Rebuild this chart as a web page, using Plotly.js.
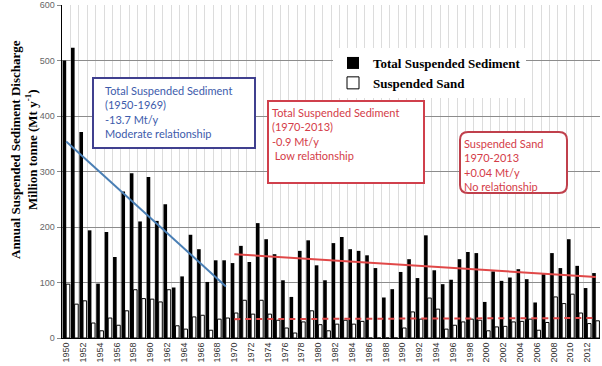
<!DOCTYPE html>
<html>
<head>
<meta charset="utf-8">
<script src="https://cdn.plot.ly/plotly-3.0.1.min.js"></script>
<style>html,body{margin:0;padding:0;background:#fff}#chart{width:602px;height:366px}</style>
</head>
<body>
<div id="chart"></div>
<script>
// ---- data ----
const years = [];
for (let y = 1950; y <= 2013; y++) years.push(y);

const totalSediment = [
  500, 523, 371, 194, 98, 191, 146, 264, 297, 210,
  290, 211, 241, 91, 111, 186, 160, 101, 140, 140,
  135, 166, 137, 207, 178, 151, 104, 74, 157, 176,
  131, 104, 171, 182, 160, 157, 149, 126, 73, 88,
  119, 142, 108, 185, 122, 97, 105, 142, 155, 153,
  65, 120, 103, 109, 124, 106, 64, 115, 153, 126,
  178, 130, 90, 117
];

const suspendedSand = [
  97, 61, 67, 27, 13, 36, 23, 49, 87, 71,
  70, 65, 87, 22, 16, 38, 41, 14, 34, 36,
  45, 68, 43, 68, 43, 32, 18, 9, 29, 49,
  24, 13, 25, 32, 25, 30, 0, 0, 0, 0,
  18, 47, 34, 72, 52, 16, 23, 29, 34, 32,
  13, 20, 21, 29, 30, 34, 14, 28, 74, 62,
  79, 45, 26, 31
];

// trend lines (end points)
const trendTssEarlyX = [1950, 1969];
const trendTssEarlyY = [354, 93];
const trendTssLateX = [1970, 2013];
const trendTssLateY = [151, 110];
const trendSandX = [1970, 2013];
const trendSandY = [34, 36];

const tickYears = [];
for (let y = 1950; y <= 2012; y += 2) tickYears.push(y);
const yTicks = [0, 100, 200, 300, 400, 500, 600];

const seriesNames = ['Total Suspended Sediment', 'Suspended Sand'];

// ---- traces ----
const traces = [
  {type: 'bar', x: years, y: totalSediment, name: seriesNames[0],
   marker: {color: '#000000', line: {width: 0}}},
  {type: 'bar', x: years, y: suspendedSand, name: seriesNames[1],
   marker: {color: '#ffffff', line: {color: '#000000', width: 1}}},
  {type: 'scatter', mode: 'lines', x: trendTssEarlyX, y: trendTssEarlyY, showlegend: false,
   line: {color: '#4a7fb5', width: 2}, hoverinfo: 'skip'},
  {type: 'scatter', mode: 'lines', x: trendTssLateX, y: trendTssLateY, showlegend: false,
   line: {color: '#e04848', width: 2}, hoverinfo: 'skip'},
  {type: 'scatter', mode: 'lines', x: trendSandX, y: trendSandY, showlegend: false,
   line: {color: '#e04848', width: 2, dash: '6px,5px'}, hoverinfo: 'skip'}
];

// helpers for px -> paper
const L = 62, R = 600, T = 5, B = 338;
const px = v => (v - L) / (R - L);
const py = v => (B - v) / (B - T);

function roundRect(x0, y0, x1, y1, r) {
  const X0 = px(x0), X1 = px(x1), YT = py(y0), YB = py(y1);
  const rx = r / (R - L), ry = r / (B - T);
  return `M ${X0 + rx},${YT} L ${X1 - rx},${YT} Q ${X1},${YT} ${X1},${YT - ry} ` +
         `L ${X1},${YB + ry} Q ${X1},${YB} ${X1 - rx},${YB} L ${X0 + rx},${YB} ` +
         `Q ${X0},${YB} ${X0},${YB + ry} L ${X0},${YT - ry} Q ${X0},${YT} ${X0 + rx},${YT} Z`;
}

const boxFont = {family: 'Lato, "Open Sans", sans-serif', size: 11};

const layout = {
  width: 602, height: 366,
  margin: {l: L, r: 602 - R, t: T, b: 366 - B, pad: 0},
  paper_bgcolor: '#ffffff', plot_bgcolor: '#ffffff',
  barmode: 'group', bargap: 0.14, bargroupgap: 0,
  showlegend: true,
  legend: {
    x: px(333), y: py(48), xanchor: 'left', yanchor: 'top',
    bgcolor: '#ffffff', borderwidth: 0,
    font: {family: '"Liberation Serif", "Times New Roman", serif', size: 13, color: '#000', weight: 'bold'},
    tracegroupgap: 2
  },
  xaxis: {
    range: [1949.5, 2013.5],
    tickmode: 'array', tickvals: tickYears, ticktext: tickYears.map(String),
    tickangle: -90,
    tickfont: {family: '"Liberation Sans", Arial, sans-serif', size: 9, color: '#333'},
    showgrid: false,
    minor: {tick0: 1949.5, dtick: 1, showgrid: true, gridcolor: '#dcdcdc', gridwidth: 1, ticks: ''},
    showline: true, linecolor: '#000', linewidth: 1,
    ticks: '', zeroline: false
  },
  yaxis: {
    range: [0, 600],
    tickmode: 'array', tickvals: yTicks,
    tickfont: {family: '"Liberation Sans", Arial, sans-serif', size: 9, color: '#666'},
    ticks: 'outside', ticklen: 4, tickcolor: '#888',
    showgrid: true, gridcolor: '#8c8c8c', gridwidth: 1,
    showline: true, linecolor: '#000', linewidth: 1.5,
    zeroline: false
  },
  shapes: [
    {type: 'rect', xref: 'paper', yref: 'paper', layer: 'above',
     x0: px(93), x1: px(255), y0: py(148), y1: py(78),
     fillcolor: '#ffffff', line: {color: '#40408f', width: 2}},
    {type: 'rect', xref: 'paper', yref: 'paper', layer: 'above',
     x0: px(268), x1: px(424), y0: py(183), y1: py(101),
     fillcolor: '#ffffff', line: {color: '#d0404c', width: 2}},
    {type: 'path', xref: 'paper', yref: 'paper', layer: 'above',
     path: roundRect(460, 132, 567, 193, 8),
     fillcolor: '#ffffff', line: {color: '#c0404c', width: 2}}
  ],
  annotations: [
    {xref: 'paper', yref: 'paper', x: px(103), y: py(82), xanchor: 'left', yanchor: 'top',
     showarrow: false, align: 'left',
     text: 'Total Suspended Sediment<br>(1950-1969)<br>-13.7 Mt/y<br>Moderate relationship',
     font: Object.assign({color: '#3d5bab'}, boxFont)},
    {xref: 'paper', yref: 'paper', x: px(270), y: py(104), xanchor: 'left', yanchor: 'top',
     showarrow: false, align: 'left',
     text: 'Total Suspended Sediment<br>(1970-2013)<br>-0.9 Mt/y<br>&nbsp;Low relationship',
     font: Object.assign({color: '#d43c48'}, boxFont)},
    {xref: 'paper', yref: 'paper', x: px(462), y: py(135), xanchor: 'left', yanchor: 'top',
     showarrow: false, align: 'left',
     text: 'Suspended Sand<br>1970-2013<br>+0.04 Mt/y<br>No relationship',
     font: Object.assign({color: '#d43c48'}, boxFont)},
    {xref: 'paper', yref: 'paper', x: px(24), y: py(150), xanchor: 'center', yanchor: 'middle',
     showarrow: false, textangle: -90,
     text: 'Annual Suspended Sediment Discharge<br>Million tonne (Mt y<sup>-1</sup>)',
     font: {family: '"Liberation Serif", "Times New Roman", serif', size: 13, color: '#000', weight: 'bold'}}
  ]
};

Plotly.newPlot('chart', traces, layout, {displayModeBar: false, staticPlot: true});
</script>
</body>
</html>
